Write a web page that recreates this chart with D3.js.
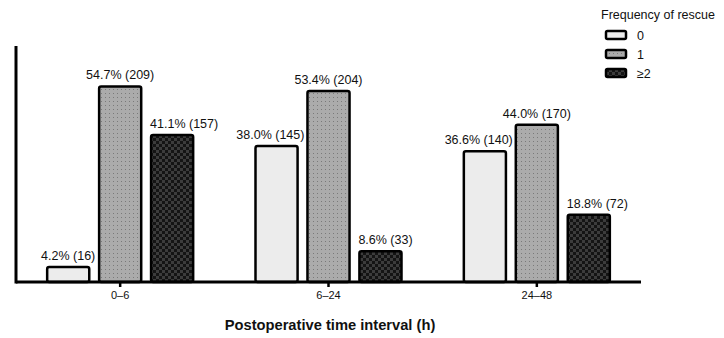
<!DOCTYPE html>
<html><head><meta charset="utf-8">
<script src="https://cdn.jsdelivr.net/npm/d3@7"></script>
<style>body{margin:0;background:#fff}svg{display:block;font-family:"Liberation Sans",Arial,sans-serif}</style>
</head><body><div id="chart"></div>
<script>
const intervals = ["0–6", "6–24", "24–48"];
const rescueLevels = ["0", "1", "≥2"];
const pct0 = [4.2, 38.0, 36.6];
const pct1 = [54.7, 53.4, 44.0];
const pct2 = [41.1, 8.6, 18.8];
const n0 = [16, 145, 140];
const n1 = [209, 204, 170];
const n2 = [157, 33, 72];
const pctSeries = [pct0, pct1, pct2];
const nSeries = [n0, n1, n2];
const xTitle = "Postoperative time interval (h)";
const legendTitle = "Frequency of rescue";

const W = 724, H = 338;
const svg = d3.select("#chart").append("svg").attr("width", W).attr("height", H);
const defs = svg.append("defs");
const pd = defs.append("pattern").attr("id","p1").attr("patternUnits","userSpaceOnUse").attr("width",4).attr("height",4);
pd.append("rect").attr("width",4).attr("height",4).attr("fill","#ababab");
pd.append("rect").attr("x",1).attr("y",1).attr("width",1).attr("height",1).attr("fill","#7a7a7a");
const pc = defs.append("pattern").attr("id","p2").attr("patternUnits","userSpaceOnUse").attr("width",6).attr("height",6);
pc.append("rect").attr("width",6).attr("height",6).attr("fill","#141414");
pc.append("rect").attr("width",3).attr("height",3).attr("fill","#3c3c3c");
pc.append("rect").attr("x",3).attr("y",3).attr("width",3).attr("height",3).attr("fill","#3c3c3c");
const fills = ["#ececec", "url(#p1)", "url(#p2)"];

const x0 = 16, x1 = 641, yBase = 282, yTop = 46;
const x = d3.scaleBand().domain(intervals).range([x0, x1]);
const xs = d3.scaleBand().domain(rescueLevels).range([-73, 73]).paddingInner(0.19).paddingOuter(0);
const y = d3.scaleLinear().domain([0, 66]).range([yBase, yTop]);

const gBars = svg.append("g");
const gLab = svg.append("g");
intervals.forEach((iv, i) => {
  const cx = x(iv) + x.bandwidth() / 2;
  rescueLevels.forEach((lv, j) => {
    const v = pctSeries[j][i];
    const bx = cx + xs(lv);
    const bw = xs.bandwidth();
    gBars.append("rect").attr("x", bx).attr("y", y(v)).attr("width", bw)
      .attr("height", yBase - y(v)).attr("rx", 2).attr("fill", fills[j])
      .attr("stroke", "#000").attr("stroke-width", 2.5);
    const t = gLab.append("text").attr("y", y(v) - 7)
      .attr("font-size", 12.5).attr("fill", "#111")
      .text(v.toFixed(1) + "% (" + nSeries[j][i] + ")");
    const tw = t.node().getComputedTextLength();
    let left = bx + bw / 2 - tw / 2;
    if (j === 0) {
      const limit = cx + xs(rescueLevels[1]) - 3;
      if (left + tw > limit) left = limit - tw;
    } else if (j === 2) {
      left = Math.max(left, bx - 1);
    }
    t.attr("x", left);
  });
});

svg.append("line").attr("x1", x0).attr("x2", x0).attr("y1", yTop).attr("y2", yBase + 1.5)
  .attr("stroke", "#000").attr("stroke-width", 3);
const xa = svg.append("g").attr("transform", `translate(0,${yBase})`)
  .call(d3.axisBottom(x).tickSize(5).tickSizeOuter(0).tickPadding(4));
xa.select(".domain").attr("stroke-width", 3).attr("d", `M${x0},0H${x1}`);
xa.selectAll(".tick line").attr("stroke-width", 2.5);
xa.selectAll(".tick text").attr("font-size", 11).attr("font-family", "Liberation Sans, Arial, sans-serif").attr("fill", "#111");

svg.append("text").attr("x", (x0 + x1) / 2 + 1.5).attr("y", 330).attr("text-anchor", "middle")
  .attr("font-size", 14.7).attr("font-weight", "bold").attr("fill", "#111").text(xTitle);

const lg = svg.append("g");
lg.append("text").attr("x", 601).attr("y", 19).attr("font-size", 12.5).attr("fill", "#111").text(legendTitle);
rescueLevels.forEach((lv, j) => {
  const yy = 35 + j * 19;
  lg.append("rect").attr("x", 606).attr("y", yy - 4).attr("width", 20).attr("height", 8).attr("rx", 1.5)
    .attr("fill", fills[j]).attr("stroke", "#000").attr("stroke-width", 2.5);
  lg.append("text").attr("x", 637).attr("y", yy + 5).attr("font-size", 12.5).attr("fill", "#111").text(lv);
});
</script></body></html>
